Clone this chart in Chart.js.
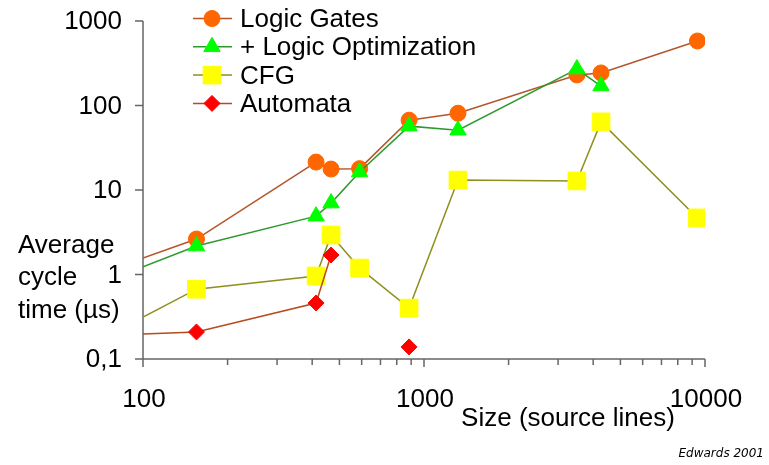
<!DOCTYPE html>
<html>
<head>
<meta charset="utf-8">
<script src="https://cdn.jsdelivr.net/npm/chart.js@4.4.1/dist/chart.umd.min.js"></script>
<style>
html, body { margin: 0; padding: 0; background: #fff; }
canvas { display: block; }
</style>
</head>
<body>
<canvas id="chart" width="769" height="465"></canvas>
<script>
const sizes = [155, 413, 467, 590, 885, 1321, 3500, 4266, 9400];
const logicGates = [2.63, 21.4, 17.7, 17.9, 67, 81, 230, 243, 580];
const logicOpt = [2.17, 4.9, 7.0, 16.3, 57, 51, 270, 170, null];
const cfg = [0.67, 0.96, 2.93, 1.19, 0.40, 13.1, 12.8, 64, 4.67];
const automata = [0.209, 0.46, 1.70, null, 0.139, null, null, null, null];
// value where each line enters the plot at x = 100 (earlier point is off the chart)
const leftEdge = [1.57, 1.23, 0.314, 0.198];

const seriesNames = ["Logic Gates", "+ Logic Optimization", "CFG", "Automata"];

const xTicks = [100, 1000, 10000];
const xTickLabels = ["100", "1000", "10000"];
const xMinorTicks = [200, 300, 400, 500, 600, 700, 800, 900, 2000, 3000, 4000, 5000, 6000, 7000, 8000, 9000];
const yTicks = [0.1, 1, 10, 100, 1000];
const yTickLabels = ["0,1", "1", "10", "100", "1000"];

const FONT = '"Liberation Sans", Arial, sans-serif';

function points(edge, values) {
    const pts = [{ x: 100, y: edge }];
    sizes.forEach((s, i) => pts.push({ x: s, y: values[i] }));
    return pts;
}

function series(i, values, line, fill, style, r, order) {
    return {
        label: seriesNames[i],
        data: points(leftEdge[i], values),
        borderColor: line,
        borderWidth: 1.5,
        pointStyle: style,
        pointBackgroundColor: fill,
        pointBorderColor: fill,
        pointBorderWidth: 1,
        pointRadius: ctx => ctx.dataIndex === 0 ? 0 : r,
        legendRadius: r,
        legendFill: fill,
        tension: 0,
        spanGaps: false,
        order: order
    };
}

const frame = {
    id: "frame",
    beforeDatasetsDraw(chart) {
        const ctx = chart.ctx;
        const x = chart.scales.x, y = chart.scales.y;
        const left = x.getPixelForValue(100), right = x.getPixelForValue(10000);
        const top = y.getPixelForValue(1000), bottom = y.getPixelForValue(0.1);
        ctx.save();
        ctx.strokeStyle = "#666";
        ctx.lineWidth = 1.5;
        ctx.beginPath();
        ctx.moveTo(left, top); ctx.lineTo(left, bottom);
        ctx.moveTo(left, bottom); ctx.lineTo(right, bottom);
        yTicks.forEach(v => {
            const py = y.getPixelForValue(v);
            ctx.moveTo(left - 8, py); ctx.lineTo(left, py);
        });
        xTicks.forEach(v => {
            const px = x.getPixelForValue(v);
            ctx.moveTo(px, bottom); ctx.lineTo(px, bottom + 8);
        });
        xMinorTicks.forEach(v => {
            const px = x.getPixelForValue(v);
            ctx.moveTo(px, bottom); ctx.lineTo(px, bottom + 6);
        });
        ctx.stroke();
        ctx.restore();
    },
    afterDraw(chart) {
        const ctx = chart.ctx;
        const x = chart.scales.x, y = chart.scales.y;
        ctx.save();
        ctx.fillStyle = "#000";
        ctx.font = "26px " + FONT;

        ctx.textAlign = "right";
        ctx.textBaseline = "middle";
        yTicks.forEach((v, i) => ctx.fillText(yTickLabels[i], 122, y.getPixelForValue(v) + 1));

        ctx.textAlign = "center";
        ctx.textBaseline = "alphabetic";
        xTicks.forEach((v, i) => ctx.fillText(xTickLabels[i], x.getPixelForValue(v) + 1, 407));

        ctx.fillText("Size (source lines)", 568, 426);

        ctx.textAlign = "left";
        ctx.fillText("Average", 18, 253);
        ctx.fillText("cycle", 18, 285);
        ctx.fillText("time (µs)", 18, 318);

        // legend
        chart.data.datasets.forEach((ds, i) => {
            const ly = 18.5 + i * 28.3;
            ctx.strokeStyle = ds.borderColor;
            ctx.lineWidth = 1.5;
            ctx.beginPath();
            ctx.moveTo(193, ly); ctx.lineTo(232, ly);
            ctx.stroke();
            ctx.fillStyle = ds.legendFill;
            ctx.strokeStyle = ds.legendFill;
            ctx.lineWidth = 1;
            Chart.helpers.drawPoint(ctx, { pointStyle: ds.pointStyle, rotation: 0, radius: ds.legendRadius, borderWidth: 1 }, 212, ly);
            ctx.fillStyle = "#000";
            ctx.fillText(ds.label, 240, ly + 8.5);
        });

        ctx.font = "italic 12px \"DejaVu Sans\", sans-serif";
        ctx.textAlign = "right";
        ctx.fillText("Edwards 2001", 764, 457);
        ctx.restore();
    }
};

new Chart(document.getElementById("chart"), {
    type: "line",
    data: {
        datasets: [
            series(0, logicGates, "#b5552a", "#ff6600", "circle", 8, 4),
            series(1, logicOpt, "#2e9a2e", "#00ff00", "triangle", 9.5, 3),
            series(2, cfg, "#8f8f1f", "#ffff00", "rect", 12.5, 2),
            series(3, automata, "#b84a20", "#ff0000", "rectRot", 8, 1)
        ]
    },
    options: {
        responsive: false,
        animation: false,
        layout: { padding: { left: 143, right: 64, top: 21, bottom: 106 } },
        scales: {
            x: { type: "logarithmic", min: 100, max: 10000, display: false },
            y: { type: "logarithmic", min: 0.1, max: 1000, display: false }
        },
        plugins: {
            legend: { display: false },
            tooltip: { enabled: false }
        }
    },
    plugins: [frame]
});
</script>
</body>
</html>
